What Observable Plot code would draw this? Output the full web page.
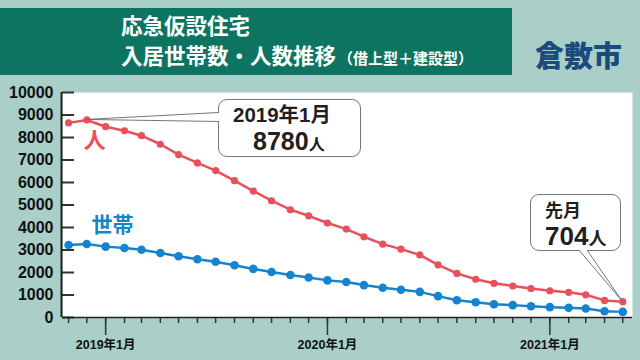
<!DOCTYPE html>
<html>
<head>
<meta charset="utf-8">
<script src="https://cdn.jsdelivr.net/npm/d3@7"></script>
<script src="https://cdn.jsdelivr.net/npm/@observablehq/plot@0.6"></script>
<style>
  html, body { margin: 0; padding: 0; background: #a9cfc8; }
  #wrap { position: relative; width: 640px; height: 360px; overflow: hidden; background: #a9cfc8; font-family: "Noto Sans CJK JP", sans-serif; }
  #chart { position: absolute; left: 0; top: 0; }
  .titlebox { position: absolute; left: 0; top: 8px; width: 512px; height: 67px; background: #0c7460; }
  .t1 { position: absolute; left: 121px; top: 14px; color: #fff; font-weight: 700; font-size: 21.5px; line-height: 1; white-space: nowrap; }
  .t2 { position: absolute; left: 121px; top: 44px; color: #fff; font-weight: 700; font-size: 21.5px; line-height: 1; white-space: nowrap; }
  .t2 small { font-size: 15px; margin-left: 2px; }
  .city { position: absolute; left: 535px; top: 40px; color: #1a4a7e; font-weight: 900; font-size: 29px; line-height: 1; white-space: nowrap; }
  .callout { position: absolute; background: #fff; border: 1px solid #777; border-radius: 9px; box-sizing: border-box; color: #231f20; font-weight: 700; font-family: "Liberation Sans", "Noto Sans CJK JP", sans-serif; }
  .callout .a { position: absolute; white-space: nowrap; line-height: 1; }
  #overlay { position: absolute; left: 0; top: 0; pointer-events: none; }
</style>
</head>
<body>
<div id="wrap">
  <div id="chart"></div>
  <div class="titlebox"></div>
  <div class="t1">応急仮設住宅</div>
  <div class="t2">入居世帯数・人数推移<small>（借上型＋建設型）</small></div>
  <div class="city">倉敷市</div>
  <div class="callout" style="left:218px;top:99px;width:143px;height:58px;">
    <div class="a" style="left:14px;top:5px;font-size:20.5px;">2019年1月</div>
    <div class="a" style="left:34px;top:29px;font-size:25px;">8780<span style="font-size:16px;font-family:'Noto Sans CJK JP';">人</span></div>
  </div>
  <div class="callout" style="left:530px;top:194px;width:91px;height:57px;">
    <div class="a" style="left:14px;top:5px;font-size:18px;font-family:'Noto Sans CJK JP';">先月</div>
    <div class="a" style="left:14px;top:28px;font-size:26px;">704<span style="font-size:18px;font-family:'Noto Sans CJK JP';">人</span></div>
  </div>
  <svg id="overlay" width="640" height="360"></svg>
</div>
<script>
// ---- data ----
const months = ["2018-11","2018-12","2019-01","2019-02","2019-03","2019-04","2019-05","2019-06","2019-07","2019-08","2019-09","2019-10","2019-11","2019-12","2020-01","2020-02","2020-03","2020-04","2020-05","2020-06","2020-07","2020-08","2020-09","2020-10","2020-11","2020-12","2021-01","2021-02","2021-03","2021-04","2021-05"];
const people = [8650, 8780, 8480, 8300, 8080, 7700, 7240, 6870, 6530, 6080, 5620, 5190, 4790, 4520, 4200, 3930, 3590, 3260, 3040, 2780, 2340, 1960, 1700, 1520, 1400, 1290, 1190, 1120, 1010, 760, 704];
const households = [3220, 3270, 3150, 3090, 3010, 2870, 2720, 2590, 2480, 2320, 2160, 2020, 1890, 1780, 1650, 1580, 1440, 1320, 1230, 1140, 950, 770, 680, 590, 550, 500, 460, 430, 400, 280, 250];
const seriesNames = ["人", "世帯"];
const yTicks = [0, 1000, 2000, 3000, 4000, 5000, 6000, 7000, 8000, 9000, 10000];
const xMajorTicks = ["2019-01", "2020-01", "2021-01"];
const xMajorLabels = ["2019年1月", "2020年1月", "2021年1月"];
const xDomain = ["2018-10-22", "2021-05-17"];
const peakIndex = 1;
const lastIndex = months.length - 1;

// ---- build ----
const parseM = d3.utcParse("%Y-%m");
const parseD = d3.utcParse("%Y-%m-%d");
const dates = months.map(parseM);
const peopleData = dates.map((d, i) => ({date: d, value: people[i]}));
const hhData = dates.map((d, i) => ({date: d, value: households[i]}));
const majorDates = xMajorTicks.map(parseM);
const majorLabel = d => { const k = majorDates.findIndex(m => +m === +d); return k >= 0 ? xMajorLabels[k] : ""; };

const RED = "#e8505c", BLUE = "#1683cf";

const chart = Plot.plot({
  width: 640, height: 360,
  marginLeft: 62, marginRight: 8, marginTop: 92, marginBottom: 43,
  style: {background: "transparent", overflow: "visible"},
  x: {type: "utc", domain: xDomain.map(parseD), label: null},
  y: {domain: [0, 10000], label: null},
  marks: [
    Plot.frame({fill: "white", stroke: null}),
    Plot.axisY({ticks: yTicks, tickSize: -12, tickPadding: 21, tickFormat: d => String(d), stroke: "#333", strokeWidth: 2,
      fontSize: 16, fontWeight: "bold", fill: "#111", fontFamily: "Liberation Sans, Arial, sans-serif", label: null}),
    Plot.axisX({ticks: dates, tickSize: 6, tickFormat: () => "", stroke: "#333", strokeWidth: 1.5, label: null}),
    Plot.axisX({ticks: majorDates, tickSize: 18, tickPadding: 5, tickFormat: majorLabel, stroke: "#333", strokeWidth: 1.5,
      fontSize: 12.5, fontWeight: "bold", fill: "#111", fontFamily: "Liberation Sans, Noto Sans CJK JP, sans-serif", label: null}),
    Plot.ruleX([parseD(xDomain[0])], {stroke: "#222", strokeWidth: 2, dx: -1}),
    Plot.ruleY([0], {stroke: "#222", strokeWidth: 1.5}),
    Plot.line(hhData, {x: "date", y: "value", stroke: BLUE, strokeWidth: 2.5}),
    Plot.dot(hhData, {x: "date", y: "value", fill: BLUE, r: 4.3}),
    Plot.line(peopleData, {x: "date", y: "value", stroke: RED, strokeWidth: 2.5}),
    Plot.dot(peopleData, {x: "date", y: "value", fill: RED, r: 3.6}),
    Plot.text([peopleData[peakIndex]], {x: "date", y: "value", text: () => seriesNames[0], fill: RED,
      fontSize: 22, fontWeight: "bold", fontFamily: "Noto Sans CJK JP", dx: 8, dy: 21}),
    Plot.text([hhData[0]], {x: "date", y: "value", text: () => seriesNames[1], fill: BLUE,
      fontSize: 21, fontWeight: "bold", fontFamily: "Noto Sans CJK JP", dx: 44, dy: -20})
  ]
});
document.getElementById("chart").appendChild(chart);

// ---- callout pointers, placed with the chart's own scales ----
const sx = chart.scale("x"), sy = chart.scale("y");
const ov = d3.select("#overlay");
function pointer(d, b1, b2) {
  const px = sx.apply(d.date), py = sy.apply(d.value);
  ov.append("polygon").attr("points", `${px},${py} ${b1[0]},${b1[1]} ${b2[0]},${b2[1]}`).attr("fill", "white");
  ov.append("line").attr("x1", px).attr("y1", py).attr("x2", b1[0]).attr("y2", b1[1]).attr("stroke", "#666").attr("stroke-width", 0.9);
  ov.append("line").attr("x1", px).attr("y1", py).attr("x2", b2[0]).attr("y2", b2[1]).attr("stroke", "#666").attr("stroke-width", 0.9);
}
pointer(peopleData[peakIndex], [219, 112.5], [219, 121.5]);
pointer(peopleData[lastIndex], [579, 250], [587, 250]);
</script>
</body>
</html>
